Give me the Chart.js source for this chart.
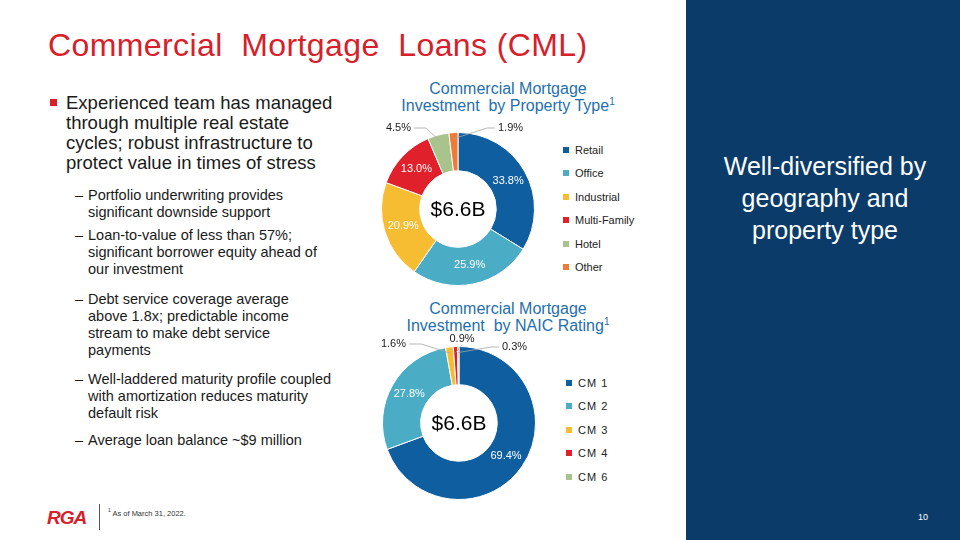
<!DOCTYPE html>
<html><head><meta charset="utf-8">
<script src="https://cdn.jsdelivr.net/npm/chart.js@4"></script>
<style>
body{margin:0;width:960px;height:540px;position:relative;overflow:hidden;background:#fff;font-family:"Liberation Sans",Arial,sans-serif}
.abs{position:absolute}
#title{left:48px;top:27px;font-size:32px;color:#d7202a;letter-spacing:0.4px}
#panel{left:686px;top:0;width:274px;height:540px;background:#0b3b68}
#panelText{left:700px;top:150px;width:250px;text-align:center;color:#fff;font-size:25px;line-height:32px}
#main{left:66px;top:93px;width:290px;font-size:18.5px;line-height:20px;color:#1a1a1a;white-space:nowrap}
#bul{left:50px;top:99px;width:7px;height:7px;background:#d7202a}
.sub{position:absolute;left:88px;font-size:14.5px;line-height:17px;color:#1a1a1a;white-space:nowrap}
.dash{position:absolute;left:-13px}
.ct{position:absolute;text-align:center;color:#1f6fae;font-size:16px;line-height:17px;width:240px}
.leg{position:absolute;font-size:11px;color:#222}
.leg div{height:23.5px;display:flex;align-items:center}
.leg span.sw{display:inline-block;width:6px;height:6px;margin-right:6px}
.center{position:absolute;font-size:21px;color:#000;width:100px;text-align:center}
</style></head><body>
<div id="title" class="abs">Commercial&nbsp; Mortgage&nbsp; Loans (CML)</div>
<div id="bul" class="abs"></div>
<div id="main" class="abs">Experienced team has managed<br>through multiple real estate<br>cycles; robust infrastructure to<br>protect value in times of stress</div>
<div class="sub" style="top:187px"><span class="dash">–</span>Portfolio underwriting provides<br>significant downside support</div>
<div class="sub" style="top:227px"><span class="dash">–</span>Loan-to-value of less than 57%;<br>significant borrower equity ahead of<br>our investment</div>
<div class="sub" style="top:291px"><span class="dash">–</span>Debt service coverage average<br>above 1.8x; predictable income<br>stream to make debt service<br>payments</div>
<div class="sub" style="top:371px"><span class="dash">–</span>Well-laddered maturity profile coupled<br>with amortization reduces maturity<br>default risk</div>
<div class="sub" style="top:432px"><span class="dash">–</span>Average loan balance ~$9 million</div>

<div class="ct" style="left:388px;top:80px">Commercial Mortgage<br>Investment&nbsp; by Property Type<sup style="font-size:10px;line-height:0">1</sup></div>
<div class="ct" style="left:388px;top:300px">Commercial Mortgage<br>Investment&nbsp; by NAIC Rating<sup style="font-size:10px;line-height:0">1</sup></div>

<canvas id="c1" class="abs" style="left:358px;top:115px" width="200" height="188"></canvas>
<canvas id="c2" class="abs" style="left:359px;top:329px" width="200" height="188"></canvas>
<div class="center" style="left:408px;top:197px">$6.6B</div>
<div class="center" style="left:409px;top:411px">$6.6B</div>
<div id="leg1" class="leg" style="left:563px;top:138px"></div>
<div id="leg2" class="leg" style="left:566px;top:371px;letter-spacing:1px"></div>

<div id="panel" class="abs"></div>
<div id="panelText" class="abs">Well-diversified by geography and property type</div>
<div class="abs" style="left:918px;top:512px;color:#fff;font-size:9px">10</div>
<div class="abs" style="left:47px;top:507px;color:#d7202a;font-size:19px;font-weight:bold;font-style:italic;letter-spacing:-1px">RGA</div>
<div class="abs" style="left:99px;top:504px;width:1px;height:26px;background:#555"></div>
<div class="abs" style="left:108px;top:507px;font-size:7.5px;color:#333"><sup style="font-size:5px">1</sup> As of March 31, 2022.</div>

<script>
const propLabels=['Retail','Office','Industrial','Multi-Family','Hotel','Other'];
const propValues=[33.8,25.9,20.9,13.0,4.5,1.9];
const propColors=['#0f5fa0','#4aacc5','#f6bd32','#e0202a','#a8c48c','#ee7b36'];
const naicLabels=['CM 1','CM 2','CM 3','CM 4','CM 6'];
const naicValues=[69.4,27.8,1.6,0.9,0.3];
const naicColors=['#0f5fa0','#4aacc5','#f6bd32','#e0202a','#a8c48c'];
const propOut={4:[-47,-81,'right'],5:[40,-81,'left']};
const naicOut={2:[-53,-79,'right'],3:[3,-84,'center'],4:[43,-76,'left']};

function makeLegend(id,labels,colors){
  document.getElementById(id).innerHTML=labels.map((l,i)=>`<div><span class="sw" style="background:${colors[i]}"></span>${l}</div>`).join('');
}
makeLegend('leg1',propLabels,propColors);
makeLegend('leg2',naicLabels,naicColors);

const labelPlugin={id:'lbl',afterDatasetsDraw(chart,args,opts){
  const ctx=chart.ctx;const meta=chart.getDatasetMeta(0);const vals=chart.data.datasets[0].data;
  ctx.save();ctx.font='11px "Liberation Sans",Arial';
  meta.data.forEach((arc,i)=>{
    const a=(arc.startAngle+arc.endAngle)/2;
    const txt=vals[i].toFixed(1)+'%';
    const o=opts.out[i];
    if(o){
      const rx=arc.x+Math.cos(a)*(arc.outerRadius-6), ry=arc.y+Math.sin(a)*(arc.outerRadius-6);
      const tx=arc.x+o[0], ty=arc.y+o[1];
      const ex = o[2]==='right'?tx+3:(o[2]==='left'?tx-3:tx);
      const ey = o[2]==='center'?ty+6:ty;
      ctx.strokeStyle='#a6a6a6';ctx.lineWidth=0.8;ctx.beginPath();
      ctx.moveTo(ex,ey);
      if(o[2]==='right') ctx.lineTo(ex+12,ey);
      if(o[2]==='left') ctx.lineTo(ex-8,ey);
      ctx.lineTo(rx,ry);ctx.stroke();
      ctx.fillStyle='#222';ctx.textAlign=o[2];ctx.textBaseline='middle';
      ctx.fillText(txt,tx,ty);
    } else {
      const r=(arc.innerRadius+arc.outerRadius)/2;
      ctx.fillStyle='#fff';ctx.textAlign='center';ctx.textBaseline='middle';
      ctx.fillText(txt,arc.x+Math.cos(a)*r,arc.y+Math.sin(a)*r);
    }
  });
  ctx.restore();
}};

function donut(id,labels,values,colors,out){
  new Chart(document.getElementById(id),{type:'doughnut',
    data:{labels,datasets:[{data:values,backgroundColor:colors,borderColor:'#fff',borderWidth:1}]},
    options:{responsive:false,animation:false,cutout:'50%',layout:{padding:17},
      plugins:{legend:{display:false},tooltip:{enabled:false},lbl:{out}}},
    plugins:[labelPlugin]});
}
donut('c1',propLabels,propValues,propColors,propOut);
donut('c2',naicLabels,naicValues,naicColors,naicOut);
</script>
</body></html>
